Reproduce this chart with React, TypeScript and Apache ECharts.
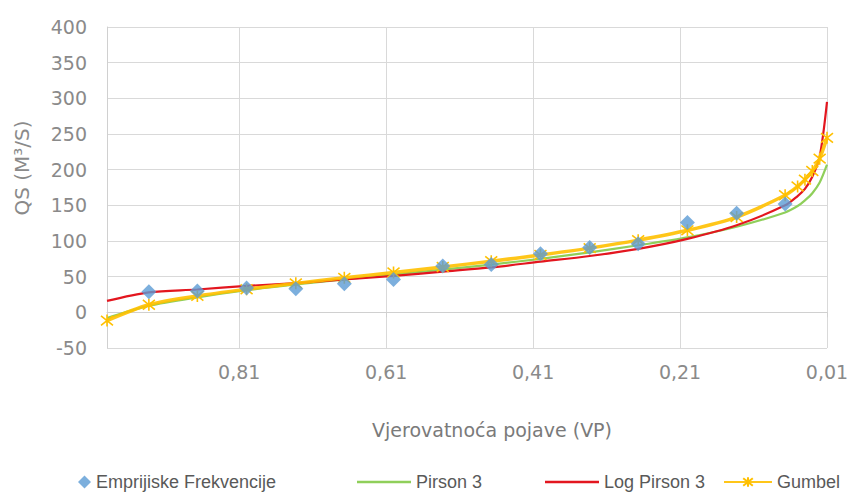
import React, { useEffect, useRef } from "react";
import * as echarts from "echarts";

// Empirical frequencies (exceedance probability, discharge)
const P_EMP = [0.933, 0.867, 0.8, 0.733, 0.667, 0.6, 0.533, 0.467, 0.4, 0.333, 0.267, 0.2, 0.133, 0.067];
const Q_EMP = [29, 30, 34, 33, 40, 46, 65, 67, 82, 91, 96, 126, 139, 152];

// Theoretical curves, evaluated at these probabilities
const P_CURVE = [0.99, 0.933, 0.867, 0.8, 0.733, 0.667, 0.6, 0.533, 0.467, 0.4, 0.333, 0.267, 0.2, 0.133, 0.067, 0.05, 0.04, 0.03, 0.02, 0.01];
const Q_PIRSON3 = [-8, 9, 21, 31, 39, 46, 53, 60, 67, 75, 84, 94, 105, 120, 140, 149, 157, 167, 182, 207];
const Q_LOGPIRSON3 = [16, 28, 32, 37, 41, 46, 51, 57, 63, 71, 79, 89, 103, 122, 150, 163, 173, 190, 218, 295];
const Q_GUMBEL = [-11.6, 10.6, 23.0, 32.4, 40.6, 48.4, 55.9, 63.6, 71.7, 80.4, 90.0, 101.2, 115.0, 133.6, 164.1, 176.4, 186.0, 198.2, 215.4, 244.6];

const Y_MIN = -50;
const Y_MAX = 400;
const Y_STEP = 50;
const X_MIN = 0.01;
const X_MAX = 0.99;
const X_STEP = 0.2;

const NAMES = ["Emprijiske Frekvencije", "Pirson 3", "Log Pirson 3", "Gumbel"];
const X_TITLE = "Vjerovatnoća pojave (VP)";
const Y_TITLE = "QS (M³/S)";

const STAR = "path://M1,1L9,9M9,1L1,9M5,0L5,10";

const zip = (xs: number[], ys: number[]) => xs.map((x, i) => [x, ys[i]]);

export default function App() {
  const ref = useRef<HTMLDivElement>(null);
  useEffect(() => {
    if (!ref.current) return;
    const chart = echarts.init(ref.current, undefined, { renderer: "svg" });
    const tickFont = "DejaVu Sans";
    const textFont = "Liberation Sans";
    const gray = "#8a8a8a";
    const legendText = { fontSize: 18, fontFamily: textFont, color: "#595959" };
    chart.setOption({
      animation: false,
      backgroundColor: "#ffffff",
      grid: { left: 107, right: 27, top: 27, bottom: 145, containLabel: false },
      xAxis: {
        type: "value",
        inverse: true,
        min: X_MIN,
        max: X_MAX,
        interval: X_STEP,
        axisLine: { show: true, lineStyle: { color: "#d0d0d0", width: 1 } },
        axisTick: { show: true, length: 5, lineStyle: { color: "#d0d0d0" } },
        splitLine: { show: true, lineStyle: { color: "#d9d9d9", width: 1 } },
        axisLabel: {
          showMaxLabel: false,
          margin: 14,
          fontSize: 19,
          fontFamily: tickFont,
          color: gray,
          formatter: (v: number) => v.toFixed(2).replace(".", ","),
        },
      },
      yAxis: {
        type: "value",
        min: Y_MIN,
        max: Y_MAX,
        interval: Y_STEP,
        axisLine: { show: true, lineStyle: { color: "#d0d0d0", width: 1 } },
        axisTick: { show: false },
        splitLine: { show: true, lineStyle: { color: "#d9d9d9", width: 1 } },
        axisLabel: { margin: 20, fontSize: 19, fontFamily: tickFont, color: gray },
      },
      legend: [
        {
          left: 73, top: 468, data: [{ name: NAMES[0], icon: "diamond" }],
          itemWidth: 13, itemHeight: 13, textStyle: legendText,
        },
        {
          left: 352, top: 468, data: [{ name: NAMES[1], icon: "rect" }],
          itemWidth: 54, itemHeight: 2.5, textStyle: legendText,
        },
        {
          left: 540, top: 468, data: [{ name: NAMES[2], icon: "rect" }],
          itemWidth: 54, itemHeight: 2.5, textStyle: legendText,
        },
        {
          left: 718, top: 468, data: [NAMES[3]],
          itemWidth: 48, itemHeight: 12, textStyle: legendText,
        },
      ],
      graphic: [
        {
          type: "text",
          x: 22,
          y: 168,
          rotation: Math.PI / 2,
          style: {
            text: Y_TITLE, fontSize: 20, fontFamily: tickFont, fill: gray,
            align: "center", verticalAlign: "middle",
          },
        },
        {
          type: "text",
          x: 492,
          y: 430,
          style: {
            text: X_TITLE, fontSize: 19, fontFamily: tickFont, fill: "#7a7a7a",
            align: "center", verticalAlign: "middle",
          },
        },
      ],
      series: [
        {
          name: NAMES[1],
          type: "line",
          data: zip(P_CURVE, Q_PIRSON3),
          smooth: 0.3,
          symbol: "none",
          z: 2,
          lineStyle: { color: "#8fcf5a", width: 2.2 },
          itemStyle: { color: "#8fcf5a" },
        },
        {
          name: NAMES[2],
          type: "line",
          data: zip(P_CURVE, Q_LOGPIRSON3),
          smooth: 0.3,
          symbol: "none",
          z: 3,
          lineStyle: { color: "#e3161f", width: 2.2 },
          itemStyle: { color: "#e3161f" },
        },
        {
          name: NAMES[3],
          type: "line",
          data: zip(P_CURVE, Q_GUMBEL),
          smooth: 0.3,
          symbol: STAR,
          symbolSize: 12,
          showSymbol: true,
          z: 4,
          lineStyle: { color: "#ffc000", width: 3.5, opacity: 0.9 },
          itemStyle: { color: "#ffc000", borderColor: "#ffc000", borderWidth: 1.6 },
        },
        {
          name: NAMES[0],
          type: "scatter",
          data: zip(P_EMP, Q_EMP),
          symbol: "diamond",
          symbolSize: 15,
          z: 5,
          itemStyle: { color: "#5b9bd5" },
        },
      ],
    });
    return () => chart.dispose();
  }, []);
  return <div ref={ref} style={{ width: 854, height: 493, position: "absolute", left: 0, top: 0 }} />;
}
